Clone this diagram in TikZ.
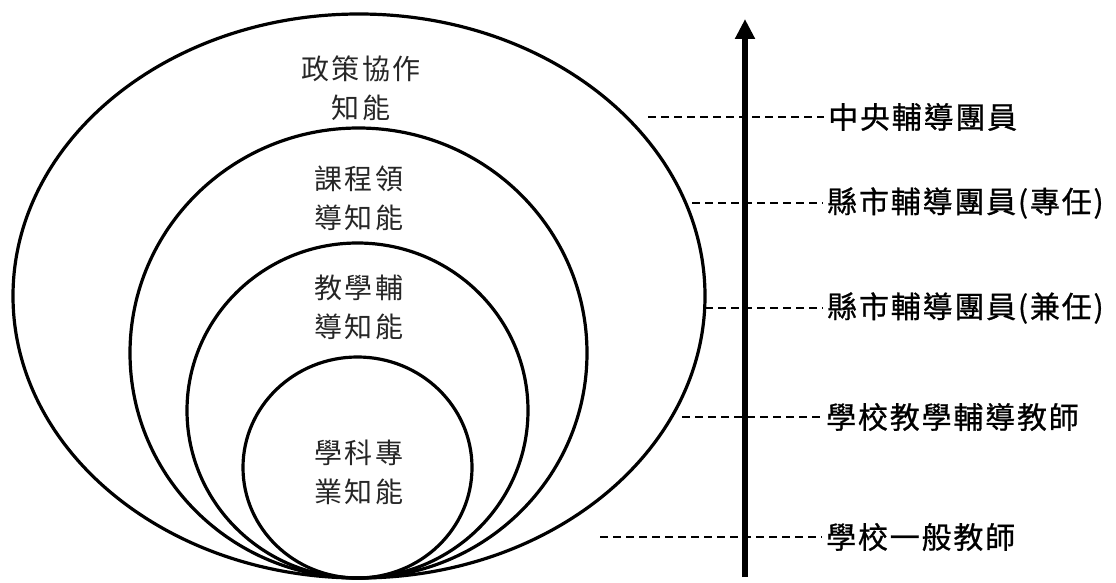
\documentclass[tikz,border=0pt]{standalone}
\usepackage{fontspec}
\newfontfamily\cjk[LetterSpace=9]{Noto Sans CJK TC}
\newfontfamily\cjkrole[LetterSpace=6,FakeBold=0.8]{Noto Sans CJK TC}
\usetikzlibrary{shapes.geometric,arrows.meta}
\begin{document}
\begin{tikzpicture}
[x=1pt,y=-1pt,
 ring/.style={ellipse,draw=black,line width=3.2pt,inner sep=0pt},
 inner/.style={align=center,text=black!85,inner sep=0pt,
   font=\fontsize{28}{39}\selectfont\cjk},
 role/.style={anchor=west,inner sep=4pt,font=\fontsize{30}{34}\selectfont\cjkrole},
 guide/.style={dash pattern=on 8pt off 5pt,line width=1.5pt},
 rise/.style={line width=5.5pt,-{Triangle[width=19pt,length=20pt]}}]
\useasboundingbox (0,0) rectangle (1116,583);
% nested circles, all touching at the bottom
\node [ring,minimum width=692pt,minimum height=564pt] (policy) at (359,296) {};
\node [ring,minimum width=457pt,minimum height=450pt] (curric) at (358.5,353) {};
\node [ring,minimum width=341pt,minimum height=335pt] (teach) at (357.5,410.5) {};
\node [ring,minimum width=229pt,minimum height=221pt] (subject) at (357.5,467.5) {};
\node [inner] (policytxt) at (361,88) {政策協作\\知能};
\node [inner] (currictxt) at (359,198.5) {課程領\\導知能};
\node [inner] (teachtxt) at (359,307.5) {教學輔\\導知能};
\node [inner] (subjecttxt) at (359,472.5) {學科專\\業知能};
% roles on the right
\node [role] (central) at (824,117) {中央輔導團員};
\node [role] (cityfull) at (823,203) {縣市輔導團員(專任)};
\node [role] (citypart) at (823,308) {縣市輔導團員(兼任)};
\node [role] (mentor) at (822,417) {學校教學輔導教師};
\node [role] (teacher) at (822,537) {學校一般教師};
\coordinate (central-from) at (648,117);
\coordinate (cityfull-from) at (692,203);
\coordinate (citypart-from) at (705,308);
\coordinate (mentor-from) at (682,417);
\coordinate (teacher-from) at (600,537);
\foreach \r in {central,cityfull,citypart,mentor,teacher}
  \draw [guide] (\r-from) -- (\r.west);
% the arrow
\coordinate (base) at (745,577);
\coordinate (peak) at (745,19);
\draw [rise] (base) -- (peak);
\end{tikzpicture}
\end{document}
